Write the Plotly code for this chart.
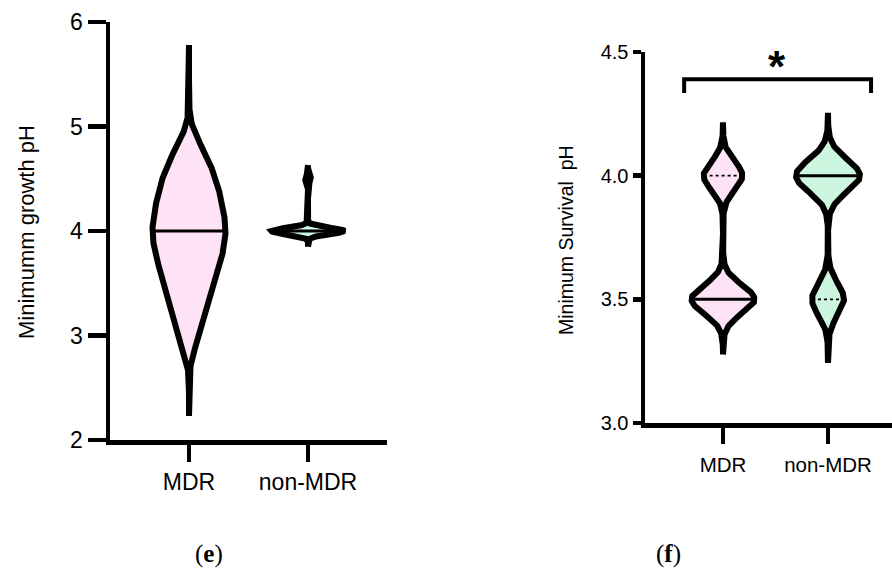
import numpy as np
import plotly.graph_objects as go

# ---------------- data ----------------
categories = ["MDR", "non-MDR"]

# (e) minimum growth pH: observed pH levels and number of isolates at each level
growth_levels_mdr = [3.0, 3.25, 3.5, 3.75, 4.0, 4.25, 4.5, 4.75]
growth_counts_mdr = [4, 6, 9, 12, 14, 12, 10, 6]
growth_levels_non = [4.0, 4.5]
growth_counts_non = [12, 1]

# (f) minimum survival pH
survival_levels = [3.5, 4.0]
survival_counts_mdr = [13, 8]
survival_counts_non = [5, 10]

growth_ticks = [2, 3, 4, 5, 6]
survival_ticks = [3.0, 3.5, 4.0, 4.5]
growth_title = "Minimumm growth pH"
survival_title = "Minimum Survival  pH"
significance_label = "*"

# ---------------- style ----------------
W, H = 892, 585
PINK = "#FDE3F5"
GREEN = "#CDF6E0"
FONT = "Liberation Sans"
LW = 6  # violin outline


def fx(px):
    return px / W


def fy(py):
    return 1 - py / H


fig = go.Figure()


def add_violin(xa, ya, center, levels, counts, bw, span, half, color, quartiles):
    grid = np.linspace(span[0], span[1], 600)
    lv = np.asarray(levels, float)
    ct = np.asarray(counts, float)

    def dens(y):
        y = np.atleast_1d(y)
        return (ct[:, None] * np.exp(-0.5 * ((y[None, :] - lv[:, None]) / bw) ** 2)).sum(axis=0)

    raw = dens(grid)
    dmax = raw.max()
    hw = half * raw / dmax
    xs = np.concatenate([center + hw, (center - hw)[::-1], [center + hw[0]]])
    ys = np.concatenate([grid, grid[::-1], [grid[0]]])
    fig.add_trace(go.Scatter(x=xs, y=ys, xaxis=xa, yaxis=ya, mode="lines",
                             fill="toself", fillcolor=color,
                             line=dict(color="black", width=LW),
                             hoverinfo="skip", showlegend=False))
    data = np.repeat(levels, counts)
    med = float(np.median(data))
    q1 = float(np.percentile(data, 25, method="lower"))
    q3 = float(np.percentile(data, 75, method="higher"))
    lines = [(med, "solid", 3)]
    if quartiles:
        for q in (q1, q3):
            if abs(q - med) > 1e-9:
                lines.append((q, "dot", 1.6))
    for yv, dash, wdt in lines:
        w = half * float(dens(yv)[0]) / dmax
        fig.add_trace(go.Scatter(x=[center - w, center + w], y=[yv, yv],
                                 xaxis=xa, yaxis=ya, mode="lines",
                                 line=dict(color="black", width=wdt, dash=dash),
                                 hoverinfo="skip", showlegend=False))


# panel (e)
add_violin("x", "y", 0, growth_levels_mdr, growth_counts_mdr, 0.17, (2.23, 5.78), 0.307, PINK, False)
add_violin("x", "y", 1, growth_levels_non, growth_counts_non, 0.03, (3.85, 4.63), 0.307, GREEN, False)

# panel (f)
add_violin("x2", "y2", 0, survival_levels, survival_counts_mdr, 0.058, (3.277, 4.216), 0.30, PINK, True)
add_violin("x2", "y2", 1, survival_levels, survival_counts_non, 0.065, (3.243, 4.254), 0.305, GREEN, True)

# significance bracket (data units of panel f)
bracket_x = [-0.37, -0.37, 1.41, 1.41]
bracket_y = [4.334, 4.39, 4.39, 4.334]
fig.add_trace(go.Scatter(x=bracket_x, y=bracket_y, xaxis="x2", yaxis="y2", mode="lines",
                         line=dict(color="black", width=4), hoverinfo="skip", showlegend=False))

# ---------------- axes ----------------
ax_common = dict(showline=True, linecolor="black", showgrid=False, zeroline=False,
                 ticks="outside", tickcolor="black", color="black", fixedrange=True,
                 automargin=False)

L_left, L_right, L_top, L_bot = 110, 387, 22, 440
R_left, R_top, R_bot = 645, 52, 423
l_unit = 119
r_unit = 105
l_c0 = 189
r_c0 = 723

fig.update_layout(
    width=W, height=H, margin=dict(l=0, r=0, t=0, b=0, pad=0), autosize=False,
    paper_bgcolor="white", plot_bgcolor="rgba(0,0,0,0)",
    font=dict(family=FONT, color="black"),
    xaxis=dict(**ax_common, domain=[fx(L_left), fx(L_right)],
               range=[(L_left - l_c0) / l_unit, (L_right - l_c0) / l_unit],
               tickvals=[0, 1], ticktext=categories, linewidth=4.5, tickwidth=4.5, ticklen=17,
               tickfont=dict(size=23), anchor="y", ticklabelstandoff=1),
    yaxis=dict(**ax_common, domain=[fy(L_bot), fy(L_top)], range=[2, 6],
               tickvals=growth_ticks, linewidth=4.5, tickwidth=4.5, ticklen=18,
               tickfont=dict(size=23), anchor="x", ticklabelstandoff=0),
    xaxis2=dict(**ax_common, domain=[fx(R_left), 1.0],
                range=[(R_left - r_c0) / r_unit, (W - r_c0) / r_unit],
                tickvals=[0, 1], ticktext=categories, linewidth=4.5, tickwidth=4.5, ticklen=16,
                tickfont=dict(size=20.5), anchor="y2", ticklabelstandoff=4),
    yaxis2=dict(**ax_common, domain=[fy(R_bot), fy(R_top)], range=[3.0, 4.5],
                tickvals=survival_ticks, tickformat=".1f", linewidth=4.5, tickwidth=4.5, ticklen=8,
                tickfont=dict(size=20), anchor="x2", ticklabelstandoff=0),
)

# axis titles
fig.add_annotation(x=fx(27), y=fy(232), xref="paper", yref="paper", text=growth_title,
                   textangle=-90, showarrow=False, font=dict(size=22, family=FONT, color="black"),
                   xanchor="center", yanchor="middle")
fig.add_annotation(x=fx(566), y=fy(240), xref="paper", yref="paper", text=survival_title,
                   textangle=-90, showarrow=False, font=dict(size=19.5, family=FONT, color="black"),
                   xanchor="center", yanchor="middle")

fig.add_annotation(x=fx(777), y=fy(66), xref="paper", yref="paper", text="<b>" + significance_label + "</b>",
                   showarrow=False, font=dict(size=44, family=FONT, color="black"),
                   xanchor="center", yanchor="middle")

fig.add_annotation(x=fx(209), y=fy(554), xref="paper", yref="paper", text="(<b>e</b>)",
                   showarrow=False, font=dict(size=25, family="Liberation Serif", color="black"),
                   xanchor="center", yanchor="middle")
fig.add_annotation(x=fx(668), y=fy(554), xref="paper", yref="paper", text="(<b>f</b>)",
                   showarrow=False, font=dict(size=25, family="Liberation Serif", color="black"),
                   xanchor="center", yanchor="middle")

fig.write_html("out.html", config={"displayModeBar": False, "staticPlot": True},
               post_script="document.body.style.margin='0';document.body.style.overflow='hidden';")
